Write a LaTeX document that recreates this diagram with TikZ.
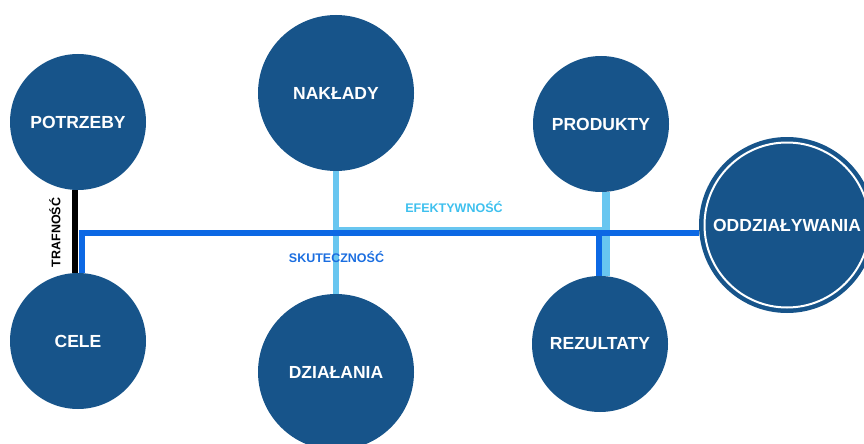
\documentclass[tikz,border=0pt]{standalone}
\usepackage{fontspec}
\setmainfont{Liberation Sans}
\definecolor{circblue}{RGB}{23,84,138}
\definecolor{skyline}{RGB}{104,198,240}
\definecolor{deepline}{RGB}{12,104,228}
\definecolor{eftext}{RGB}{62,192,238}
\definecolor{sktext}{RGB}{27,110,224}
\tikzset{
    bubble/.style={circle, fill=circblue, text=white, inner sep=0pt, font=\bfseries\fontsize{17.5}{20}\selectfont},
    tag/.style={font=\bfseries\fontsize{12.5}{14}\selectfont},
    skyway/.style={draw=skyline, line width=6pt},
    deepway/.style={draw=deepline, line width=6pt},
}
\begin{document}
\begin{tikzpicture}[x=1pt, y=-1pt]
    \useasboundingbox (0,0) rectangle (864,444);
    \clip (0,0) rectangle (864,444);
    %\draw[lightgray] (0,0) grid[step=50] (864,444);
    \node[bubble, minimum size=136pt] (pot) at (78,122) {POTRZEBY};
    \node[bubble, minimum size=136pt] (cel) at (78,341) {CELE};
    \node[bubble, minimum size=156pt] (nak) at (336,93) {NAKŁADY};
    \node[bubble, minimum size=156pt] (dzi) at (336,372) {DZIAŁANIA};
    \node[bubble, minimum size=136pt] (pro) at (601,124) {PRODUKTY};
    \node[bubble, minimum size=136pt] (rez) at (600,344) {REZULTATY};
    \node[bubble, minimum size=176pt] (odd) at (787,225) {ODDZIAŁYWANIA};
    \draw[white, line width=2pt] (odd.center) circle (82.5pt);
    \coordinate (efL) at (336,229);
    \coordinate (efR) at (606,229);
    \draw[skyway] (nak.south) -- (dzi.north);
    \draw[skyway, line width=4.5pt] (efL) -- (efR);
    \draw[skyway, line width=8pt] ([xshift=5pt]pro.south) -- ([xshift=5pt]pro.south |- rez.north);
    \draw[line width=6pt] ([xshift=-3pt]pot.south) -- ([xshift=-3pt]cel.north);
    \draw[deepway] ([xshift=4pt]cel.north) |- (odd.185.5);
    \draw[deepway] ([xshift=-1.5pt]rez.north) -- ([xshift=-1.5pt]rez.north |- odd.185.5);
    \node[tag, rotate=90] (tra) at (55,232.5) {TRAFNOŚĆ};
    \node[tag, text=eftext] (efe) at (454,207) {EFEKTYWNOŚĆ};
    \node[tag, text=sktext] (sku) at (336.5,257) {SKUTECZNOŚĆ};
\end{tikzpicture}
\end{document}
